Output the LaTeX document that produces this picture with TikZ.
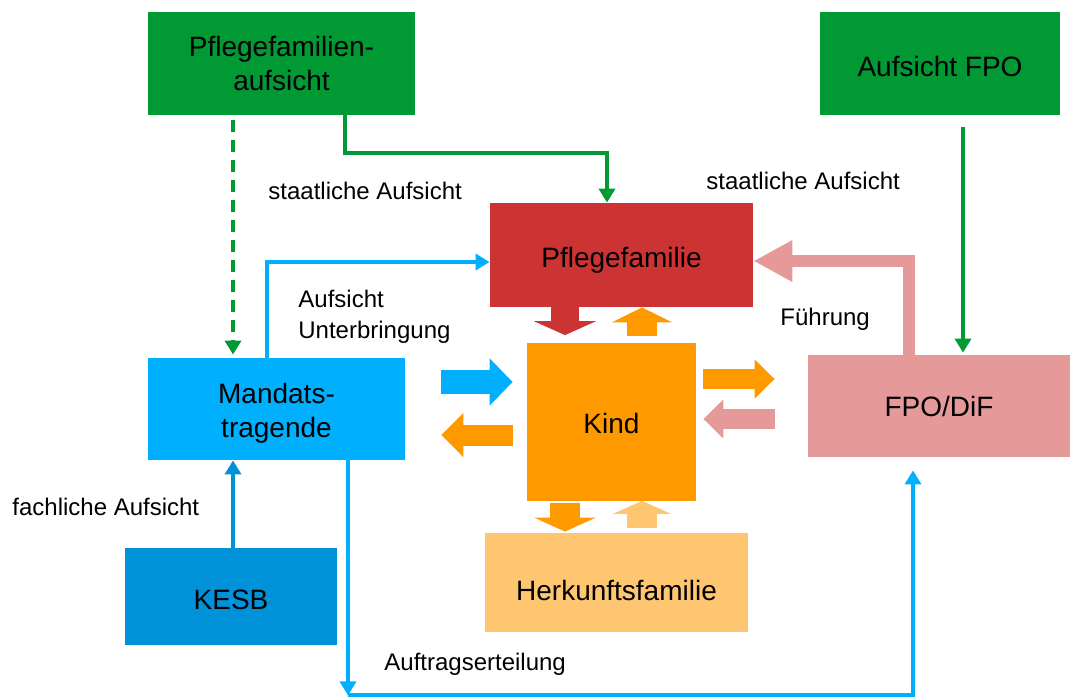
\documentclass[tikz,border=0pt]{standalone}
\usepackage{fontspec}
\setmainfont{Liberation Sans}
\usetikzlibrary{arrows.meta,positioning}

\definecolor{aufsichtgreen}{RGB}{0,153,51}
\definecolor{pflegered}{RGB}{204,51,51}
\definecolor{mandblue}{RGB}{0,176,255}
\definecolor{kesbblue}{RGB}{0,146,216}
\definecolor{kindorange}{RGB}{255,153,0}
\definecolor{fpopink}{RGB}{230,153,153}
\definecolor{herklight}{RGB}{255,198,114}

\begin{document}
\begin{tikzpicture}
    [x=0.5pt, y=-0.5pt,
    % STYLES
    % The box style is used to draw the actors
    box/.style={rectangle, inner sep=0pt, align=center, font=\fontsize{14}{17}\selectfont},
    % The rel style is used to name the relations
    rel/.style={anchor=west, inner sep=0pt, align=left, font=\fontsize{12}{15.5}\selectfont},
    % thin connectors
    link/.style={line width=2pt, -{Triangle[length=7pt,width=8pt]}},
    % block arrows between the actors
    blockarrow/.style n args={3}{line width=#1, -{Triangle[width=#2,length=#3]}}]

    \useasboundingbox (0,0) rectangle (1076,698);

    % Draw actors
    \node [box, fill=aufsichtgreen, minimum width=133.5pt, minimum height=51.5pt] (pfa) at (281.5,63.5) {Pflegefamilien-\\aufsicht};
    \node [box, fill=aufsichtgreen, minimum width=120pt, minimum height=51.5pt, text height=13.2pt] (afpo) at (940,63.5) {Aufsicht FPO};
    \node [box, fill=pflegered, minimum width=131.5pt, minimum height=52pt, text height=15.2pt] (pf) at (621.5,255) {Pflegefamilie};
    \node [box, fill=mandblue, minimum width=128.5pt, minimum height=51pt, text height=31.5pt] (mand) at (276.5,409) {Mandats-\\tragende};
    \node [box, fill=kindorange, minimum width=84.5pt, minimum height=79pt, text height=12.2pt] (kind) at (611.5,421.5) {Kind};
    \node [box, fill=fpopink, minimum width=131pt, minimum height=51pt] (fpo) at (939,406) {FPO/DiF};
    \node [box, fill=kesbblue, minimum width=106pt, minimum height=48.5pt, text height=13pt] (kesb) at (231,596.5) {KESB};
    \node [box, fill=herklight, minimum width=131.5pt, minimum height=49.5pt, text height=18.2pt] (herk) at (616.5,582.5) {Herkunftsfamilie};

    % Draw relation names
    \node [rel] (sa1) at (268,191) {staatliche Aufsicht};
    \node [rel] (sa2) at (706,181) {staatliche Aufsicht};
    \node [rel] (au) at (298,316.5) {Aufsicht\\Unterbringung};
    \node [rel] (fu) at (780,319) {Führung};
    \node [rel] (fa) at (12,507) {fachliche Aufsicht};
    \node [rel] (ae) at (384,664) {Auftragserteilung};

    % Draw supervision
    \draw [link, aufsichtgreen] ([xshift=31.75pt]pfa.south) -- ++(0,38) -| ([xshift=-7.25pt]pf.north);
    \draw [link, aufsichtgreen, dash pattern=on 6pt off 4pt] ([xshift=-24.25pt,yshift=-2.5pt]pfa.south) -- ([xshift=-24.25pt,yshift=1.5pt]pfa.south |- mand.north);
    \draw [link, aufsichtgreen] ([xshift=11.5pt,yshift=-6pt]afpo.south) -- ([xshift=11.5pt,yshift=1pt]afpo.south |- fpo.north);
    \draw [link, mandblue] ([xshift=-4.75pt]mand.north) |- ([yshift=-3.5pt]pf.west);
    \draw [link, kesbblue] ([xshift=1pt]kesb.north) -- ([xshift=1pt]kesb.north |- mand.south);
    \draw [link, mandblue] ([xshift=35.75pt]mand.south) -- ++(0,235) coordinate (corner);
    \draw [link, mandblue] (corner) -| ([xshift=-13pt,yshift=-6.5pt]fpo.south);
    \draw [blockarrow={6pt}{19.5pt}{19.5pt}, fpopink] ([xshift=-15pt]fpo.north) |- ([yshift=-3pt]pf.east);

    % Draw block arrows round the child
    \draw [blockarrow={14pt}{31pt}{7pt}, pflegered] ([xshift=-28.25pt]pf.south) -- ([xshift=-23.25pt,yshift=3.5pt]kind.north);
    \draw [blockarrow={15pt}{30pt}{7.5pt}, kindorange] ([xshift=15.25pt,yshift=3pt]kind.north) -- ([xshift=10.25pt]pf.south);
    \draw [blockarrow={12pt}{23pt}{11.5pt}, mandblue] ([xshift=18pt,yshift=13.5pt]mand.east) -- ([xshift=-7pt,yshift=19.75pt]kind.west);
    \draw [blockarrow={10.5pt}{21.5pt}{11pt}, kindorange] ([xshift=-7pt,yshift=-6.75pt]kind.west) -- ([xshift=18pt,yshift=-13pt]mand.east);
    \draw [blockarrow={10pt}{19pt}{10pt}, kindorange] ([xshift=3.5pt,yshift=21.25pt]kind.east) -- ([xshift=-16.5pt,yshift=13.5pt]fpo.west);
    \draw [blockarrow={10pt}{19pt}{10pt}, fpopink] ([xshift=-16.5pt,yshift=-6.5pt]fpo.west) -- ([xshift=3.5pt,yshift=1.25pt]kind.east);
    \draw [blockarrow={15pt}{30.5pt}{7pt}, kindorange] ([xshift=-23.25pt,yshift=-1pt]kind.south) -- ([xshift=-25.75pt,yshift=0.5pt]herk.north);
    \draw [blockarrow={15pt}{29pt}{6.5pt}, herklight] ([xshift=12.75pt,yshift=2.5pt]herk.north) -- ([xshift=15.25pt]kind.south);
\end{tikzpicture}
\end{document}
